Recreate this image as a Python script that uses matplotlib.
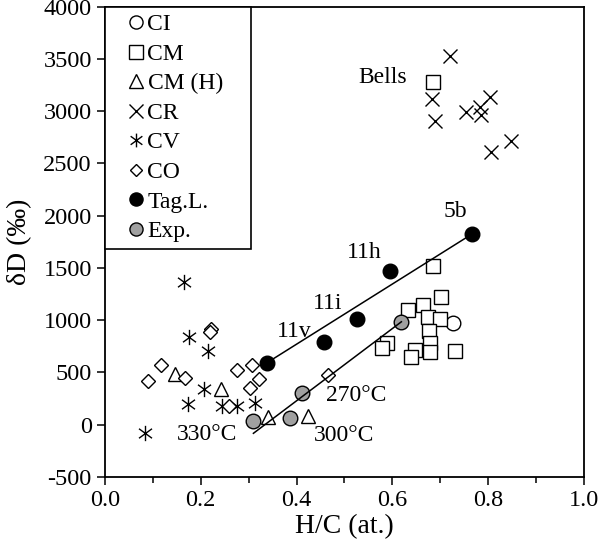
import matplotlib
matplotlib.use('Agg')
from matplotlib import pyplot as plt
from matplotlib.path import Path

plt.rcParams['font.family'] = ['Liberation Serif', 'DejaVu Serif']
plt.rcParams['axes.unicode_minus'] = False

# H/C (at.) vs deltaD (permil)
ci_x = [0.726]
ci_y = [975]

cm_x = [0.633, 0.665, 0.701, 0.674, 0.699, 0.677, 0.678, 0.678, 0.647, 0.640,
        0.731, 0.588, 0.578, 0.685, 0.685]
cm_y = [1097, 1144, 1218, 1027, 1008, 896, 778, 698, 714, 644,
        707, 778, 730, 1517, 3276]

cmh_x = [0.146, 0.242, 0.341, 0.424]
cmh_y = [485, 338, 71, 83]

cr_x = [0.720, 0.684, 0.690, 0.753, 0.783, 0.804, 0.786, 0.807, 0.848]
cr_y = [3525, 3119, 2906, 2992, 3040, 3136, 2961, 2610, 2712]

cv_x = [0.084, 0.165, 0.176, 0.216, 0.207, 0.174, 0.244, 0.276, 0.313]
cv_y = [-76, 1361, 836, 707, 338, 195, 179, 179, 205]

co_x = [0.0905, 0.117, 0.167, 0.221, 0.219, 0.275, 0.308, 0.322, 0.303, 0.259, 0.466]
co_y = [418, 571, 444, 915, 889, 523, 571, 434, 348, 179, 475]

tagl_x = [0.339, 0.457, 0.527, 0.595, 0.766]
tagl_y = [595, 788, 1008, 1472, 1823]

exp_x = [0.310, 0.387, 0.411, 0.619]
exp_y = [40, 61, 300, 985]

# trend line through the experimental points
exp_trend_x = [0.310, 0.619]
exp_trend_y = [-82, 985]

# text labels: (text, x, y)
notes = [
    ('Bells', 0.580, 3324),
    ('5b', 0.731, 2043),
    ('11h', 0.541, 1646),
    ('11i', 0.466, 1159),
    ('11v', 0.395, 891),
    ('270°C', 0.524, 284),
    ('300°C', 0.499, -100),
    ('330°C', 0.214, -89),
]

# asterisk = vertical bar + x
star = Path([(0, -1), (0, 1), (-0.85, -0.62), (0.85, 0.62), (-0.85, 0.62), (0.85, -0.62)],
            [Path.MOVETO, Path.LINETO] * 3)

fig = plt.figure(figsize=(6.0, 5.54), dpi=100)
ax = fig.add_axes([0.175, 0.139, 0.798, 0.849])

ms = 10.5
mew = 1.0
ax.plot(ci_x, ci_y, 'o', ms=ms, mfc='white', mec='black', mew=mew, label='CI')
ax.plot(cm_x, cm_y, 's', ms=ms, mfc='white', mec='black', mew=mew, label='CM')
ax.plot(cmh_x, cmh_y, '^', ms=ms, mfc='white', mec='black', mew=mew, label='CM (H)')
ax.plot(cr_x, cr_y, 'x', ms=ms, mec='black', mew=mew, label='CR')
ax.plot(cv_x, cv_y, marker=star, ls='none', ms=ms * 1.05, mec='black', mew=mew, label='CV')
ax.plot(co_x, co_y, 'D', ms=ms * 0.7, mfc='white', mec='black', mew=mew, label='CO')
ax.plot(tagl_x, tagl_y, 'o', ms=ms, mfc='black', mec='black', mew=mew, label='Tag.L.')
ax.plot(exp_x, exp_y, 'o', ms=ms, mfc='#a0a0a0', mec='black', mew=mew, label='Exp.')

# lines
ax.plot([tagl_x[0], tagl_x[-1]], [tagl_y[0], tagl_y[-1]], color='black', lw=1.1, zorder=5)
ax.plot(exp_trend_x, exp_trend_y, color='black', lw=1.1, zorder=5)

for txt, tx, ty in notes:
    ax.text(tx, ty, txt, fontsize=17, ha='center', va='center')

ax.set_xlim(0, 1.0)
ax.set_ylim(-500, 4000)
ax.set_xticks([0.0, 0.2, 0.4, 0.6, 0.8, 1.0])
ax.set_xticks([0.1, 0.3, 0.5, 0.7, 0.9], minor=True)
ax.set_xticklabels(['0.0', '0.2', '0.4', '0.6', '0.8', '1.0'])
ax.set_yticks(range(-500, 4001, 500))
ax.tick_params(axis='both', which='major', direction='out', length=6, width=1.1,
               labelsize=17.5, color='black')
ax.tick_params(axis='x', which='minor', direction='out', length=4, width=1.1)
for s in ax.spines.values():
    s.set_linewidth(1.3)

ax.set_xlabel('H/C (at.)', fontsize=20, labelpad=2)
ax.set_ylabel('δD (‰)', fontsize=20, labelpad=8)

leg = ax.legend(loc='upper left', bbox_to_anchor=(0, 0.48, 0.305, 0.52), mode='expand',
                borderaxespad=0, fontsize=17, frameon=True, fancybox=False,
                handlelength=2.0, handletextpad=-0.5, labelspacing=0.34,
                borderpad=0.3, markerscale=0.9, numpoints=1)
leg.get_frame().set_edgecolor('black')
leg.get_frame().set_linewidth(1.2)
leg.get_frame().set_alpha(1)

fig.savefig('out.png', dpi=100)
